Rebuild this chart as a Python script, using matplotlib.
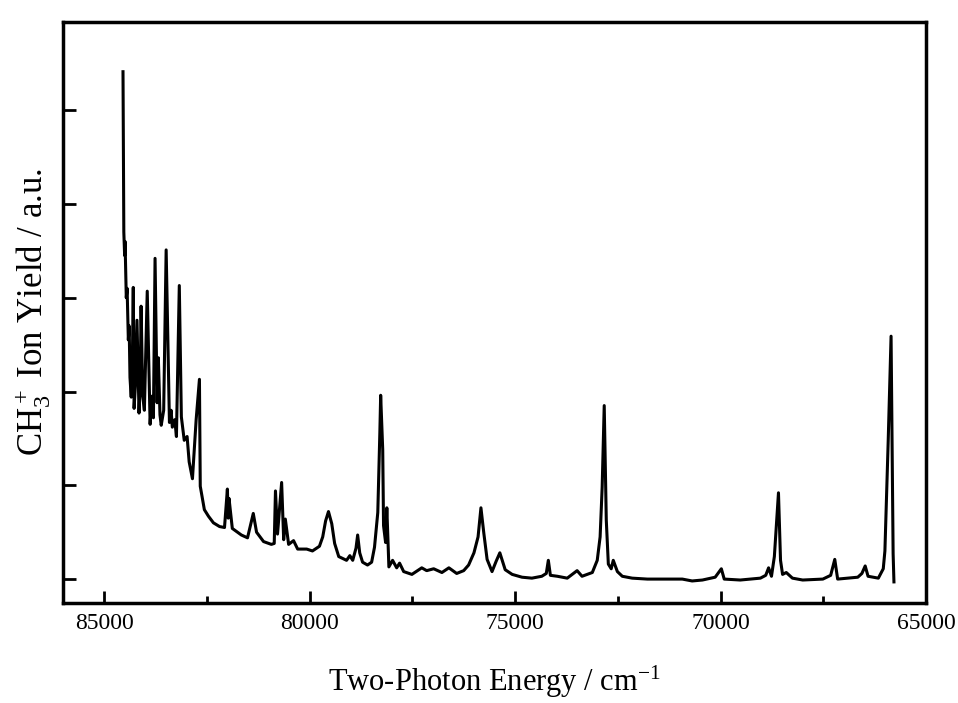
import matplotlib
matplotlib.use("Agg")
import matplotlib.pyplot as plt
from matplotlib.ticker import MultipleLocator, NullFormatter

plt.rcParams['font.family'] = ['Liberation Serif', 'DejaVu Serif']
plt.rcParams['mathtext.fontset'] = 'custom'
plt.rcParams['mathtext.rm'] = 'Liberation Serif'
plt.rcParams['mathtext.it'] = 'Liberation Serif:italic'

# two-photon energy (cm^-1) and CH3+ ion yield (a.u.) along the scan
energy = [
    84540, 84520, 84500, 84490, 84460, 84440, 84410, 84390, 84370, 84340,
    84310, 84290, 84270, 84240, 84200, 84150, 84120, 84100, 84060, 84020,
    83950, 83880, 83840, 83800, 83760, 83710, 83680, 83640, 83610, 83550,
    83490, 83410, 83370, 83340, 83280, 83240, 83170, 83120, 83050, 82980,
    82930, 82850, 82760, 82680, 82660, 82560, 82460, 82340, 82190, 82070,
    82000, 81980, 81960, 81880, 81660, 81510, 81370, 81290, 81120, 80930,
    80860, 80830, 80780, 80680, 80630, 80590, 80510, 80390, 80290, 80070,
    79930, 79760, 79680, 79610, 79540, 79460, 79390, 79290, 79100, 79020,
    78950, 78870, 78830, 78780, 78710, 78590, 78490, 78420, 78340, 78290,
    78270, 78220, 78200, 78150, 78120, 78070, 77980, 77880, 77810, 77710,
    77510, 77270, 77150, 76980, 76780, 76610, 76420, 76250, 76130, 76000,
    75900, 75830, 75760, 75680, 75560, 75460, 75370, 75240, 75070, 74830,
    74590, 74350, 74240, 74190, 74140, 73970, 73730, 73490, 73370, 73120,
    73000, 72930, 72880, 72830, 72780, 72730, 72660, 72610, 72510, 72390,
    72150, 71780, 71420, 70930, 70690, 70440, 70130, 69980, 69910, 69520,
    69030, 68900, 68830, 68760, 68690, 68590, 68540, 68490, 68400, 68250,
    68000, 67510, 67320, 67220, 67150, 66660, 66560, 66480, 66410, 66160,
    66040, 66000, 65920, 65850, 65800, 65780,
]
ion_yield = [
    5.41, 3.70, 3.45, 3.60, 3.00, 3.10, 2.55, 2.70, 2.15, 1.94,
    2.40, 3.11, 1.82, 2.05, 2.76, 1.77, 2.10, 2.91, 1.95, 1.80,
    3.07, 1.65, 1.95, 1.72, 3.42, 1.88, 2.36, 1.75, 1.64, 1.80,
    3.51, 1.67, 1.80, 1.62, 1.70, 1.52, 3.13, 1.73, 1.48, 1.52,
    1.25, 1.07, 1.70, 2.13, 0.99, 0.74, 0.67, 0.60, 0.56, 0.55,
    0.96, 0.65, 0.86, 0.54, 0.47, 0.44, 0.70, 0.50, 0.40, 0.37,
    0.38, 0.94, 0.48, 1.03, 0.42, 0.64, 0.37, 0.41, 0.32, 0.32,
    0.30, 0.35, 0.45, 0.62, 0.72, 0.59, 0.38, 0.24, 0.20, 0.25,
    0.20, 0.33, 0.47, 0.28, 0.18, 0.15, 0.18, 0.34, 0.71, 1.56,
    1.96, 1.38, 0.57, 0.39, 0.76, 0.13, 0.20, 0.12, 0.17, 0.08,
    0.05, 0.12, 0.09, 0.11, 0.07, 0.12, 0.06, 0.09, 0.15, 0.28,
    0.45, 0.76, 0.49, 0.21, 0.08, 0.19, 0.28, 0.10, 0.05, 0.02,
    0.01, 0.03, 0.06, 0.20, 0.04, 0.03, 0.01, 0.09, 0.03, 0.07,
    0.20, 0.45, 0.98, 1.85, 0.63, 0.16, 0.11, 0.20, 0.08, 0.03,
    0.01, 0.00, 0.00, 0.00, -0.02, -0.01, 0.02, 0.11, 0.00, -0.01,
    0.01, 0.04, 0.12, 0.03, 0.24, 0.92, 0.20, 0.05, 0.07, 0.01,
    -0.01, 0.00, 0.04, 0.21, 0.00, 0.02, 0.06, 0.14, 0.03, 0.01,
    0.11, 0.30, 1.47, 2.59, 0.27, -0.03,
]

x_ticks = [85000, 80000, 75000, 70000, 65000]
x_tick_labels = ["85000", "80000", "75000", "70000", "65000"]
y_ticks = [0, 1, 2, 3, 4, 5]

fig = plt.figure(figsize=(9.58, 7.03), dpi=100)
ax = fig.add_axes([63 / 958, 1 - 603 / 703, 863 / 958, 581 / 703])

ax.plot(energy, ion_yield, color='black', lw=2.2, solid_joinstyle='round')

ax.set_xlim(86000, 65000)
ax.set_ylim(-0.255, 5.94)

ax.set_xticks(x_ticks)
ax.set_xticklabels(x_tick_labels)
ax.xaxis.set_minor_locator(MultipleLocator(2500))
ax.set_yticks(y_ticks)
ax.yaxis.set_major_formatter(NullFormatter())

ax.tick_params(axis='both', which='major', direction='in', length=9, width=2,
               labelsize=17, pad=7)
ax.tick_params(axis='x', which='minor', direction='in', length=5, width=2)
ax.tick_params(top=False, right=False)

for sp in ax.spines.values():
    sp.set_linewidth(2.5)

ax.set_xlabel("Two-Photon Energy / cm$^{-1}$", fontsize=22, labelpad=22)
ax.set_ylabel("CH$_3^+$ Ion Yield / a.u.", fontsize=25, labelpad=0)

fig.savefig("out.png", dpi=100)
